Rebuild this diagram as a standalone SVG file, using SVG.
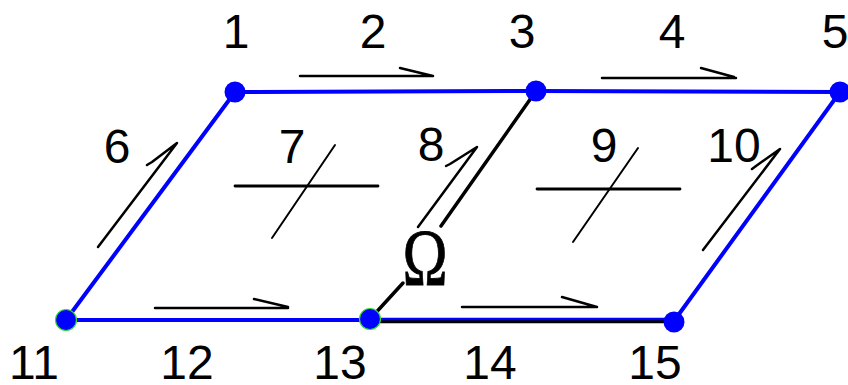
<svg xmlns="http://www.w3.org/2000/svg" width="848" height="385" viewBox="0 0 848 385">
<style>
.lbl{font-family:"Liberation Sans",Arial,sans-serif;font-size:48px;fill:#000;text-anchor:middle}
.edge{stroke:#0000ff;stroke-width:4;fill:none;stroke-linecap:round}
.blk{stroke:#000;stroke-width:3.5;fill:none;stroke-linecap:round}
.arr{stroke:#000;stroke-width:2.5;fill:none;stroke-linecap:round;stroke-linejoin:round}
.thin{stroke:#000;stroke-width:2;fill:none;stroke-linecap:round}
.node{fill:#0000ff}
.gnode{fill:#0000ff;stroke:#33dd33;stroke-width:1.2}
</style>
<rect width="848" height="385" fill="#fff"/>
<g id="connectors">
<line class="edge" x1="235" y1="92" x2="536" y2="91"/>
<line class="edge" x1="536" y1="91" x2="840" y2="92"/>
<line class="edge" x1="235" y1="92" x2="66" y2="320"/>
<line class="edge" x1="840" y1="92" x2="674" y2="321"/>
<line class="edge" x1="66" y1="320" x2="370" y2="320"/>
<line x1="370" y1="321.5" x2="674" y2="321.5" stroke="#000" stroke-width="3.5"/>
<line x1="370" y1="319" x2="674" y2="319" stroke="#0000ff" stroke-width="2.5"/>
<line class="blk" x1="536" y1="91" x2="441" y2="226"/>
<line class="blk" x1="403" y1="283" x2="371" y2="318"/>
</g>
<g id="arrows">
<path class="arr" d="M300,76 H433 M400,68 L433,76"/>
<path class="arr" d="M602,78 H736 M701,68 L734,77"/>
<path class="arr" d="M155,308 H288 M254,299 L288,307"/>
<path class="arr" d="M462,307 H597 M562,297 L597,307"/>
<path class="arr" d="M98,247 L177,143 L152,162 L147,165"/>
<path class="arr" d="M418,227 L477,147 L450,164 L446,166"/>
<path class="arr" d="M703,250 L780,149 L756,166 L752,169"/>
</g>
<g id="elements">
<line class="blk" style="stroke-width:2.8" x1="235" y1="186" x2="378" y2="186"/>
<line class="thin" x1="335" y1="145" x2="272" y2="238"/>
<line class="blk" style="stroke-width:2.8" x1="537" y1="189" x2="680" y2="189"/>
<line class="thin" x1="638" y1="148" x2="573" y2="242"/>
</g>
<g id="n1"><circle class="node" cx="235" cy="92" r="10.5"/><text class="lbl" x="236" y="48">1</text></g>
<g id="n2"><text class="lbl" x="373" y="48">2</text></g>
<g id="n3"><circle class="node" cx="536" cy="91" r="10.5"/><text class="lbl" x="522" y="48">3</text></g>
<g id="n4"><text class="lbl" x="672" y="48">4</text></g>
<g id="n5"><circle class="node" cx="840" cy="92" r="10.5"/><text class="lbl" x="835" y="48">5</text></g>
<g id="n6"><text class="lbl" x="117" y="163">6</text></g>
<g id="n7"><text class="lbl" x="292" y="163">7</text></g>
<g id="n8"><text class="lbl" x="431" y="161">8</text></g>
<g id="n9"><text class="lbl" x="604" y="162">9</text></g>
<g id="n10"><text class="lbl" x="734" y="162">10</text></g>
<g id="n11"><circle class="gnode" cx="66" cy="320" r="10.5"/><text class="lbl" x="34" y="379">11</text></g>
<g id="n12"><text class="lbl" x="187" y="379">12</text></g>
<g id="n13"><circle class="gnode" cx="370" cy="319" r="10.5"/><text class="lbl" x="340" y="379">13</text></g>
<g id="n14"><text class="lbl" x="490" y="379">14</text></g>
<g id="n15"><circle class="node" cx="674" cy="322" r="10.5"/><text class="lbl" x="655" y="379">15</text></g>
<g id="omega"><text transform="translate(425,285) scale(0.76,1)" x="0" y="0" font-family="'Liberation Serif','Times New Roman',serif" font-size="80" text-anchor="middle" fill="#000" stroke="#000" stroke-width="0.8">Ω</text></g>
</svg>
